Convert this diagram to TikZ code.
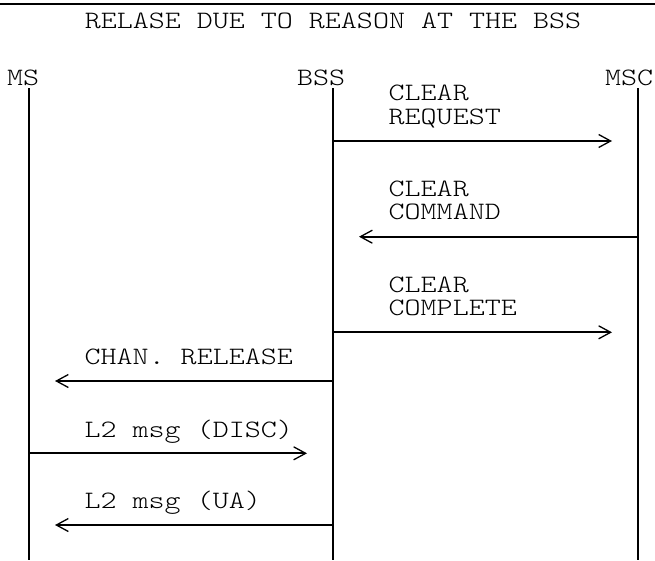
\documentclass[tikz,border=0pt]{standalone}
\usepackage{fontspec}
\newfontfamily\seqfont{lmmonolt10-regular.otf}[FakeStretch=1.22]
\usetikzlibrary{arrows.meta}

\tikzset{
	lbl/.style={font=\seqfont\fontsize{25}{25}\selectfont, inner sep=0pt, anchor=base west,
		text height=16pt, text depth=4pt},
	life/.style={line width=2pt},
	msg/.style={line width=2pt, -{Straight Barb[length=12pt,width=13pt,line width=1.3pt]}},
}

\begin{document}
\begin{tikzpicture}[x=1pt,y=-1pt]
		\useasboundingbox (0,0) rectangle (655,560);
		% header
		\coordinate (topL) at (0,3.8);
		\coordinate (topR) at (655,3.8);
		\draw[line width=2.3pt] (topL) -- (topR);
		\node[lbl,anchor=base] (title) at (333,28.3) {RELASE DUE TO REASON AT THE BSS};
		% entities
		\node[lbl] (ms) at (7,85) {MS};
		\node[lbl] (bss) at (297,85) {BSS};
		\node[lbl] (msc) at (605,85) {MSC};
		\coordinate (msTop) at (29.3,88);
		\coordinate (msBot) at (29.3,560);
		\coordinate (bssTop) at (333.3,88);
		\coordinate (bssBot) at (333.3,560);
		\coordinate (mscTop) at (637.5,88);
		\coordinate (mscBot) at (637.5,560);
		\draw[life] (msTop) -- (msBot);
		\draw[life] (bssTop) -- (bssBot);
		\draw[life] (mscTop) -- (mscBot);
		% messages
		\coordinate (reqEnd) at (612,141);
		\coordinate (cmdEnd) at (359,236.7);
		\coordinate (cplEnd) at (612,332.3);
		\coordinate (relEnd) at (55,381);
		\coordinate (discEnd) at (307,453.3);
		\coordinate (uaEnd) at (55,525);
		\draw[msg] (bssTop |- reqEnd) -- (reqEnd);
		\draw[msg] (mscTop |- cmdEnd) -- (cmdEnd);
		\draw[msg] (bssTop |- cplEnd) -- (cplEnd);
		\draw[msg] (bssTop |- relEnd) -- (relEnd);
		\draw[msg] (msTop |- discEnd) -- (discEnd);
		\draw[msg] (bssTop |- uaEnd) -- (uaEnd);
		% message labels
		\node[lbl] (reqA) at (388.5,100.7) {CLEAR};
		\node[lbl] (reqB) at (388.5,124.3) {REQUEST};
		\node[lbl] (cmdA) at (388.5,196) {CLEAR};
		\node[lbl] (cmdB) at (388.5,219.3) {COMMAND};
		\node[lbl] (cplA) at (388.5,292.3) {CLEAR};
		\node[lbl] (cplB) at (388.5,315.7) {COMPLETE};
		\node[lbl] (rel) at (84.5,364.3) {CHAN. RELEASE};
		\node[lbl] (disc) at (84.5,437.3) {L2 msg (DISC)};
		\node[lbl] (ua) at (84.5,508.3) {L2 msg (UA)};
\end{tikzpicture}
\end{document}
